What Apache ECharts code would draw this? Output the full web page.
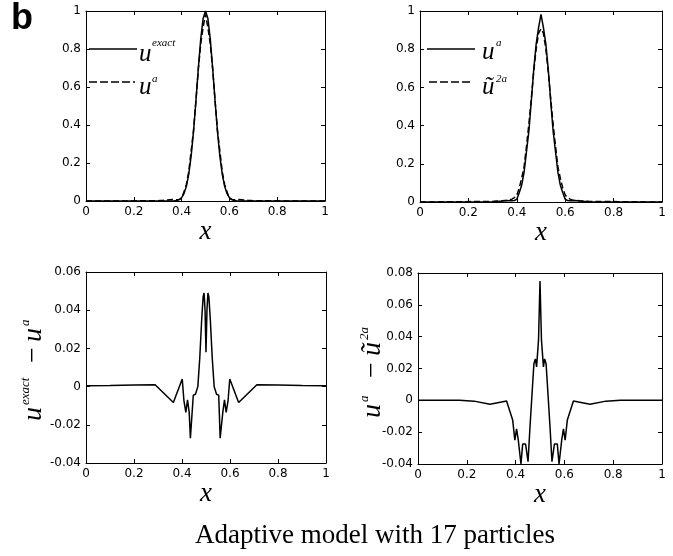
<!DOCTYPE html>
<html><head><meta charset="utf-8">
<script src="https://cdn.jsdelivr.net/npm/echarts@6/dist/echarts.min.js"></script>
<style>html,body{margin:0;padding:0;background:#fff}#c{width:673px;height:556px}</style>
</head><body><div id="c"></div>
<script>
// ---- data ----
const xTop = [0, 0.30, 0.31, 0.32, 0.33, 0.34, 0.35, 0.36, 0.37, 0.38, 0.39, 0.40, 0.41, 0.42, 0.43, 0.44, 0.45, 0.46, 0.47, 0.48, 0.49, 0.50, 0.51, 0.52, 0.53, 0.54, 0.55, 0.56, 0.57, 0.58, 0.59, 0.60, 0.61, 0.62, 0.63, 0.64, 0.65, 0.66, 0.67, 0.68, 0.69, 0.70, 1];
const uExact = [0, 0, 0, 0, 0, 0, 0, 0, 0.001, 0.003, 0.008, 0.018, 0.039, 0.077, 0.141, 0.237, 0.368, 0.527, 0.698, 0.852, 0.961, 1.000, 0.961, 0.852, 0.698, 0.527, 0.368, 0.237, 0.141, 0.077, 0.039, 0.018, 0.008, 0.003, 0.001, 0, 0, 0, 0, 0, 0, 0, 0];
const uA = [0, 0.001, 0.002, 0.003, 0.004, 0.005, 0.007, 0.008, 0.007, 0.006, 0.008, 0.014, 0.048, 0.087, 0.155, 0.264, 0.372, 0.530, 0.694, 0.827, 0.913, 0.982, 0.913, 0.827, 0.694, 0.530, 0.372, 0.264, 0.155, 0.087, 0.048, 0.014, 0.008, 0.006, 0.007, 0.008, 0.007, 0.005, 0.004, 0.003, 0.002, 0.001, 0];
const u2A = [0, 0.003, 0.004, 0.005, 0.005, 0.006, 0.008, 0.008, 0.011, 0.015, 0.023, 0.036, 0.072, 0.124, 0.183, 0.292, 0.409, 0.542, 0.683, 0.802, 0.884, 0.907, 0.884, 0.802, 0.683, 0.542, 0.409, 0.292, 0.183, 0.124, 0.072, 0.036, 0.023, 0.015, 0.011, 0.008, 0.008, 0.006, 0.005, 0.005, 0.004, 0.003, 0];

const xDiff1 = [0, 0.1, 0.2, 0.288, 0.364, 0.401, 0.408, 0.416, 0.423, 0.430, 0.435, 0.441, 0.447, 0.456, 0.466, 0.474, 0.482, 0.488, 0.492, 0.496, 0.5, 0.504, 0.508, 0.512, 0.518, 0.526, 0.534, 0.544, 0.553, 0.559, 0.565, 0.570, 0.577, 0.584, 0.592, 0.599, 0.636, 0.712, 0.8, 0.9, 1];
const diff1 = [0.0005, 0.0006, 0.0008, 0.001, -0.0083, 0.004, -0.0073, -0.0135, -0.007, -0.0135, -0.027, -0.027, -0.0045, -0.004, 0.0, 0.015, 0.035, 0.047, 0.049, 0.040, 0.018, 0.040, 0.049, 0.047, 0.035, 0.015, 0.0, -0.004, -0.0045, -0.027, -0.027, -0.0135, -0.007, -0.0135, -0.0073, 0.004, -0.0083, 0.001, 0.0008, 0.0006, 0.0005];

const xDiff2 = [0, 0.1, 0.17, 0.23, 0.295, 0.363, 0.388, 0.397, 0.404, 0.411, 0.422, 0.429, 0.441, 0.451, 0.459, 0.475, 0.481, 0.486, 0.494, 0.5, 0.506, 0.514, 0.519, 0.525, 0.541, 0.549, 0.559, 0.571, 0.578, 0.589, 0.596, 0.603, 0.612, 0.637, 0.705, 0.77, 0.83, 0.9, 1];
const diff2 = [0, 0, 0, -0.0005, -0.0025, -0.0004, -0.0124, -0.025, -0.018, -0.025, -0.04, -0.0275, -0.0275, -0.0386, -0.0166, 0.023, 0.026, 0.021, 0.038, 0.075, 0.038, 0.021, 0.026, 0.023, -0.0166, -0.0386, -0.0275, -0.0275, -0.04, -0.025, -0.018, -0.025, -0.0124, -0.0004, -0.0025, -0.0005, 0, 0, 0];

const yRangeTop = [0, 1, 0.2];
const yRangeBL = [-0.04, 0.06, 0.02];
const yRangeBR = [-0.04, 0.08, 0.02];
const xRange = [0, 1, 0.2];
const titleText = 'Adaptive model with 17 particles';

// ---- chart ----
const pairs = (xs, ys) => xs.map((x, i) => [x, ys[i]]);
const grids = [
  {left: 86, top: 11, width: 239, height: 190},
  {left: 420, top: 11, width: 242, height: 191},
  {left: 86, top: 272, width: 240, height: 191},
  {left: 418, top: 273, width: 244, height: 191}
];
const yRanges = [yRangeTop, yRangeTop, yRangeBL, yRangeBR];
const lblFont = {fontFamily: 'DejaVu Sans', fontSize: 12, color: '#000'};
const xAxes = [], yAxes = [];
grids.forEach((g, gi) => {
  const common = {type: 'value', gridIndex: gi, splitLine: {show: false},
    axisLine: {show: true, onZero: false, lineStyle: {color: '#000', width: 1}},
    axisTick: {show: true, inside: true, length: 4, lineStyle: {color: '#000'}}};
  xAxes.push(Object.assign({}, common, {position: 'bottom', min: xRange[0], max: xRange[1], interval: xRange[2],
    axisLabel: Object.assign({margin: 5}, lblFont),
    name: 'x', nameLocation: 'middle', nameGap: 16,
    nameTextStyle: {fontFamily: 'Liberation Serif', fontStyle: 'italic', fontSize: 27, color: '#000'}}));
  xAxes.push(Object.assign({}, common, {position: 'top', min: xRange[0], max: xRange[1], interval: xRange[2],
    axisLabel: {show: false}}));
  const yr = yRanges[gi];
  yAxes.push(Object.assign({}, common, {position: 'left', min: yr[0], max: yr[1], interval: yr[2],
    axisLabel: Object.assign({margin: 5}, lblFont)}));
  yAxes.push(Object.assign({}, common, {position: 'right', min: yr[0], max: yr[1], interval: yr[2],
    axisLabel: {show: false}}));
});
const line = (xi, data, dashed) => ({type: 'line', xAxisIndex: xi, yAxisIndex: xi, data: data,
  showSymbol: false, symbol: 'none', smooth: false, clip: true, silent: true,
  lineStyle: {color: '#000', width: 1.5, type: dashed ? [6, 3] : 'solid'}});

const serif = 'Liberation Serif';
const it = (txt, x, y, size, extra) => ({type: 'text', x: x, y: y, silent: true,
  style: Object.assign({text: txt, font: 'italic ' + size + 'px "' + serif + '"', fill: '#000', align: 'left', verticalAlign: 'middle'}, extra || {})});
const plain = (txt, x, y, size, extra) => ({type: 'text', x: x, y: y, silent: true,
  style: Object.assign({text: txt, font: size + 'px "' + serif + '"', fill: '#000', align: 'left', verticalAlign: 'middle'}, extra || {})});
const seg = (x1, x2, y, dashed) => ({type: 'line', silent: true, shape: {x1: x1, y1: y, x2: x2, y2: y},
  style: {stroke: '#000', lineWidth: 1.5, lineDash: dashed ? [8, 3] : null}});

const graphic = [
  {type: 'text', x: 11, y: 19.5, silent: true, style: {text: 'b', font: 'bold 36px "Liberation Sans"', fill: '#000', align: 'left', verticalAlign: 'middle'}},
  // legend top-left
  seg(89, 137, 49, false), seg(89, 135, 82, true),
  it('u', 139, 54, 25), it('exact', 152, 43, 11),
  it('u', 139, 87, 25), it('a', 152, 79, 11),
  // legend top-right
  seg(427, 475, 49, false), seg(429, 473, 82, true),
  it('u', 482, 52, 25), it('a', 496, 43, 11),
  it('\u0169', 482, 87, 25), it('2a', 496, 79, 11),
  // y label bottom-left
  {type: 'group', x: 43, y: 421, rotation: Math.PI / 2, silent: true, children: [
    it('u', 0, -9.5, 28), it('exact', 16, -17.5, 13),
    plain('\u2212', 66, -9.5, 28, {align: 'center'}),
    it('u', 79, -9.5, 28), it('a', 95, -17.5, 13)
  ]},
  // y label bottom-right
  {type: 'group', x: 382, y: 418, rotation: Math.PI / 2, silent: true, children: [
    it('u', 0, -9.5, 28), it('a', 16, -17.5, 13),
    plain('\u2212', 48, -9.5, 28, {align: 'center'}),
    it('\u0169', 62, -9.5, 28), it('2a', 78, -17.5, 13)
  ]},
  plain(titleText, 195, 536, 27)
];

const chart = echarts.init(document.getElementById('c'), null, {renderer: 'canvas'});
chart.setOption({
  animation: false,
  backgroundColor: '#fff',
  grid: grids.map(g => Object.assign({containLabel: false, outerBoundsMode: 'none'}, g)),
  xAxis: xAxes,
  yAxis: yAxes,
  series: [
    line(0, pairs(xTop, uExact), false),
    line(0, pairs(xTop, uA), true),
    line(2, pairs(xTop, uA), false),
    line(2, pairs(xTop, u2A), true),
    line(4, pairs(xDiff1, diff1), false),
    line(6, pairs(xDiff2, diff2), false)
  ],
  graphic: graphic
});
</script></body></html>
